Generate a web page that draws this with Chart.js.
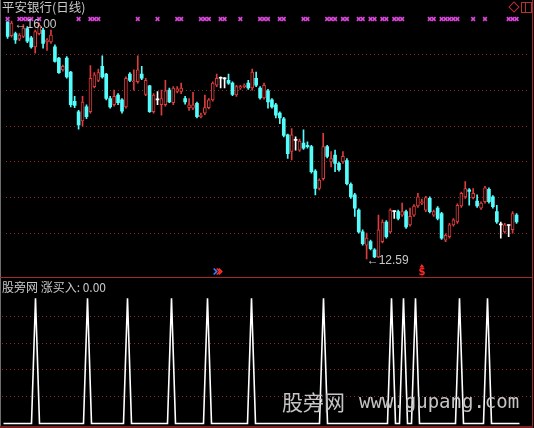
<!DOCTYPE html>
<html>
<head>
<meta charset="utf-8">
<script src="https://cdn.jsdelivr.net/npm/chart.js@4.4.1/dist/chart.umd.min.js"></script>
<style>
  html, body { margin: 0; padding: 0; background: #000; width: 534px; height: 428px; overflow: hidden; }
  #wrap { position: relative; width: 534px; height: 428px; background: #000; }
  canvas { position: absolute; left: 0; }
  #kline { top: 0; }
  #signal { top: 278px; }
  .txt { position: absolute; white-space: nowrap; color: #c8c8c8; font-family: "Noto Sans CJK SC", sans-serif; line-height: 1; }
  .rule { position: absolute; }
</style>
</head>
<body>
<div id="wrap">
  <canvas id="kline" width="534" height="278"></canvas>
  <canvas id="signal" width="534" height="150"></canvas>

  <div class="rule" style="left:0;top:0;width:1px;height:428px;background:#6e6e6e"></div>
  <div class="rule" style="left:532px;top:0;width:1px;height:428px;background:#a62a2a"></div>
  <div class="rule" style="left:0;top:277px;width:533px;height:1px;background:#a62a2a"></div>
  <div class="rule" style="left:0;top:426px;width:533px;height:2px;background:#7e1e1e"></div>

  <!-- window buttons, top right -->
  <div class="rule" style="left:510px;top:3px;width:6px;height:6px;border:1px solid #b43232;transform:rotate(45deg)"></div>
  <div class="rule" style="left:521px;top:2px;width:9px;height:9px;border:1px solid #b43232"></div>
  <div class="rule" style="left:525px;top:2px;width:1px;height:11px;background:#b43232"></div>

  <div class="txt" style="left:2px;top:1px;font-size:12.5px">平安银行(日线)</div>
  <div class="txt" style="left:2px;top:281px;font-size:12px">股旁网 涨买入: 0.00</div>

  <div class="txt" style="left:282px;top:391px;font-size:21px;color:#c4c4c4">股旁网</div>
  <div class="txt" style="left:359px;top:392px;font-size:19px;color:#c4c4c4;font-family:'DejaVu Sans Mono',monospace">www.gupang.com</div>
</div>

<script>
// Daily OHLC, one entry per trading day
const open = [15.99,15.79,15.82,15.74,15.78,15.89,15.76,15.63,15.82,15.87,
  15.70,15.70,15.63,15.47,15.30,15.47,15.27,14.85,14.70,14.57,
  14.77,14.70,15.06,15.15,15.35,15.24,14.89,14.80,14.94,14.87,
  14.77,15.24,15.13,15.13,15.24,14.95,15.07,14.70,14.87,14.80,
  14.80,15.01,14.83,14.99,14.99,14.89,14.76,14.75,14.82,14.63,
  14.68,14.76,14.87,15.08,15.18,15.17,15.15,15.11,14.94,15.04,
  15.06,15.11,15.04,15.18,15.04,14.90,15.00,14.87,14.80,14.68,
  14.60,14.37,14.13,14.29,14.15,14.25,14.22,14.20,13.85,13.60,
  13.74,14.20,13.98,14.08,13.96,13.98,14.00,13.66,13.51,13.29,
  12.98,12.79,12.84,12.72,12.62,12.84,13.12,12.98,13.27,13.27,
  13.22,13.27,13.08,13.22,13.35,13.39,13.29,13.46,13.22,13.32,
  13.24,12.86,12.91,13.08,13.12,13.35,13.48,13.58,13.47,13.42,
  13.32,13.41,13.59,13.48,13.27,13.08,12.98,13.07,13.01,13.22];
const high = [15.99,16.00,15.84,15.82,15.95,15.92,15.78,15.87,15.97,15.90,
  15.75,15.87,15.66,15.48,15.37,15.49,15.28,14.92,14.72,14.92,
  14.80,15.36,15.26,15.31,15.50,15.25,14.92,15.01,14.96,14.89,
  15.20,15.26,15.30,15.50,15.35,15.18,15.08,14.96,14.99,15.01,
  15.15,15.04,15.06,15.06,15.11,14.92,14.89,14.98,14.84,14.68,
  14.94,14.89,15.13,15.24,15.20,15.19,15.24,15.13,15.08,15.08,
  15.10,15.15,15.31,15.27,15.06,15.11,15.02,14.89,14.82,14.70,
  14.62,14.38,14.46,14.34,14.31,14.44,14.27,14.22,13.87,13.74,
  14.39,14.22,14.13,14.15,13.98,14.13,14.03,13.68,13.53,13.31,
  13.01,12.96,12.86,12.74,13.22,13.15,13.14,13.31,13.28,13.29,
  13.39,13.29,13.32,13.37,13.53,13.45,13.49,13.48,13.29,13.34,
  13.26,12.95,13.10,13.17,13.38,13.55,13.70,13.60,13.60,13.51,
  13.41,13.63,13.61,13.50,13.36,13.12,13.10,13.08,13.27,13.24];
const low = [15.75,15.77,15.68,15.72,15.76,15.69,15.61,15.54,15.80,15.61,
  15.58,15.68,15.41,15.25,15.28,15.18,14.77,14.76,14.45,14.49,
  14.60,14.68,15.04,15.13,15.18,14.87,14.75,14.78,14.80,14.68,
  14.75,15.13,15.01,15.11,15.16,14.93,14.69,14.68,14.80,14.65,
  14.78,14.83,14.80,14.97,14.96,14.81,14.72,14.73,14.61,14.61,
  14.66,14.74,14.85,15.06,15.04,15.04,15.09,14.93,14.92,15.02,
  15.04,15.02,15.01,15.06,14.88,14.88,14.75,14.75,14.61,14.53,
  14.34,14.03,14.01,14.15,14.13,14.16,14.18,13.82,13.51,13.58,
  13.72,14.04,13.91,13.84,13.85,13.96,13.65,13.46,13.20,12.96,
  12.79,12.59,12.72,12.61,12.61,12.82,12.89,12.96,13.17,13.15,
  13.20,13.03,13.06,13.20,13.33,13.37,13.27,13.25,13.20,13.15,
  12.87,12.84,12.89,13.06,13.10,13.33,13.46,13.36,13.45,13.33,
  13.30,13.39,13.39,13.32,13.10,12.89,12.96,12.91,12.96,13.10];
const close = [15.78,15.97,15.73,15.80,15.90,15.71,15.63,15.85,15.94,15.68,
  15.73,15.80,15.42,15.26,15.35,15.20,14.80,14.79,14.51,14.84,
  14.63,15.18,15.23,15.26,15.20,14.89,14.77,14.92,14.83,14.71,
  15.18,15.15,15.14,15.30,15.18,15.15,14.70,14.94,14.87,14.89,
  15.00,14.84,15.04,15.03,15.04,14.84,14.80,14.80,14.63,14.65,
  14.76,14.87,15.11,15.18,15.18,15.17,15.11,14.95,15.06,15.06,
  15.08,15.04,15.27,15.08,14.90,15.08,14.84,14.77,14.65,14.61,
  14.36,14.10,14.37,14.29,14.28,14.18,14.20,13.84,13.60,13.72,
  14.20,14.06,14.03,13.96,13.87,14.06,13.67,13.48,13.32,12.98,
  12.81,12.89,12.74,12.62,13.01,13.12,12.91,13.29,13.27,13.17,
  13.27,13.05,13.20,13.35,13.48,13.41,13.47,13.27,13.27,13.17,
  12.89,12.93,13.08,13.15,13.36,13.53,13.60,13.56,13.53,13.35,
  13.39,13.61,13.41,13.34,13.12,13.08,13.08,13.07,13.24,13.12];

// Day indices carrying the magenta cross signal along the top edge
const crossDays = [0,3,4,5,6,8,18,21,22,23,33,38,43,44,49,50,51,54,55,59,64,65,66,
  69,70,75,76,81,82,83,85,86,89,90,92,93,95,96,98,99,100,107,108,110,111,112,113,114,
  118,121,127,128,129];
// Day indices where the 涨买入 indicator fires
const buyDays = [8,21,31,42,51,62,80,97,100,103,114,121];
// Small flags under the candles
const chevronDays = [53];
const dollarDays = [105];

const days = open.map((_, i) => i);

const UP = '#dc3c3c', DOWN = '#54fcfc', FLAT = '#ffffff';
const GRID = '#8a2a2a';

function candleColor(i) {
  if (close[i] > open[i]) return UP;
  if (close[i] < open[i]) return DOWN;
  return FLAT;
}

// x positions: each day occupies 4px, the scale runs a little past the last day
const X_MIN = -0.5, X_MAX = 132;

function evenTicks(n) {
  return function (scale) {
    const t = [];
    for (let k = 0; k <= n; k++) t.push({ value: scale.min + (scale.max - scale.min) * k / n });
    scale.ticks = t;
  };
}
function innerGrid(n) {
  return ctx => (ctx.index === 0 || ctx.index === n) ? 'rgba(0,0,0,0)' : GRID;
}

function chevron(ctx, x0, yMid, color) {
  ctx.strokeStyle = color;
  ctx.lineWidth = 1.6;
  ctx.beginPath();
  ctx.moveTo(x0, yMid - 3);
  ctx.lineTo(x0 + 3, yMid);
  ctx.lineTo(x0, yMid + 3);
  ctx.stroke();
}

const markPlugin = {
  id: 'markPlugin',
  afterDatasetsDraw(chart) {
    const { ctx } = chart;
    const x = chart.scales.x, y = chart.scales.y;
    let hi = 0, lo = 0;
    high.forEach((v, i) => { if (v > high[hi]) hi = i; });
    low.forEach((v, i) => { if (v < low[lo]) lo = i; });
    ctx.save();
    ctx.font = '12px "Liberation Sans", Arial, sans-serif';
    ctx.fillStyle = '#c8c8c8';
    ctx.textBaseline = 'middle';
    ctx.fillText('\u2190' + high[hi].toFixed(2), x.getPixelForValue(hi) + 3, y.getPixelForValue(high[hi]) + 4);
    ctx.fillText('\u2190' + low[lo].toFixed(2), x.getPixelForValue(lo), y.getPixelForValue(low[lo]) + 2);

    chevronDays.forEach(d => {
      const px = x.getPixelForValue(d);
      chevron(ctx, px - 3, 271.5, '#3c80ff');
      chevron(ctx, px, 271.5, '#ff3030');
      chevron(ctx, px + 2, 271.5, '#ff3030');
    });
    dollarDays.forEach(d => {
      const px = x.getPixelForValue(d);
      ctx.fillStyle = '#ff2828';
      ctx.beginPath();
      ctx.moveTo(px, 264);
      ctx.lineTo(px + 2.5, 267.5);
      ctx.lineTo(px - 2.5, 267.5);
      ctx.closePath();
      ctx.fill();
      ctx.font = 'bold 10px "DejaVu Sans", sans-serif';
      ctx.textAlign = 'center';
      ctx.fillText('$', px, 272.5);
      ctx.textAlign = 'left';
    });
    ctx.restore();
  }
};

new Chart(document.getElementById('kline'), {
  type: 'bar',
  data: {
    datasets: [
      {
        // candle bodies, open to close
        data: days.map(i => ({ x: i, y: [open[i], close[i]] })),
        backgroundColor: days.map(i => close[i] > open[i] ? '#000000' : candleColor(i)),
        borderColor: days.map(candleColor),
        borderWidth: days.map(i => close[i] > open[i] ? 1 : 0),
        borderSkipped: false,
        barThickness: 3,
        minBarLength: 1,
        grouped: false,
        order: 0
      },
      {
        // shadows, low to high
        data: days.map(i => ({ x: i, y: [low[i], high[i]] })),
        backgroundColor: days.map(candleColor),
        borderWidth: 0,
        barThickness: 1,
        minBarLength: 1,
        grouped: false,
        order: 1
      },
      {
        type: 'line',
        yAxisID: 'ym',
        data: crossDays.map(d => ({ x: d, y: 1 })),
        showLine: false,
        pointStyle: 'crossRot',
        pointRadius: 2.6,
        pointBorderColor: '#dc46dc',
        pointBackgroundColor: '#dc46dc',
        pointBorderWidth: 1.6,
        clip: false,
        order: 2
      }
    ]
  },
  options: {
    responsive: false,
    animation: false,
    events: [],
    layout: { padding: { left: 1.5, right: 2.5, top: 19, bottom: 9 } },
    plugins: { legend: { display: false }, tooltip: { enabled: false } },
    scales: {
      x: { type: 'linear', min: X_MIN, max: X_MAX, display: false, offset: false },
      y: {
        min: 12.447, max: 16.029,
        afterBuildTicks: evenTicks(7),
        ticks: { display: false },
        border: { display: false, dash: [1, 3] },
        grid: { color: innerGrid(7), drawTicks: false, lineWidth: 1 }
      },
      ym: { display: false, min: 0, max: 1 }
    }
  },
  plugins: [markPlugin]
});

new Chart(document.getElementById('signal'), {
  type: 'line',
  data: {
    datasets: [{
      data: days.map(i => ({ x: i, y: buyDays.includes(i) ? 1 : 0 })),
      borderColor: '#ffffff',
      borderWidth: 1.6,
      pointRadius: 0,
      tension: 0,
      clip: false
    }]
  },
  options: {
    responsive: false,
    animation: false,
    events: [],
    layout: { padding: { left: 1.5, right: 2.5, top: 11.5, bottom: 4.5 } },
    plugins: { legend: { display: false }, tooltip: { enabled: false } },
    scales: {
      x: { type: 'linear', min: X_MIN, max: X_MAX, display: false },
      y: {
        min: 0, max: 1.07,
        afterBuildTicks: evenTicks(5),
        ticks: { display: false },
        border: { display: false, dash: [1, 3] },
        grid: { color: innerGrid(5), drawTicks: false, lineWidth: 1 }
      }
    }
  }
});
</script>
</body>
</html>
